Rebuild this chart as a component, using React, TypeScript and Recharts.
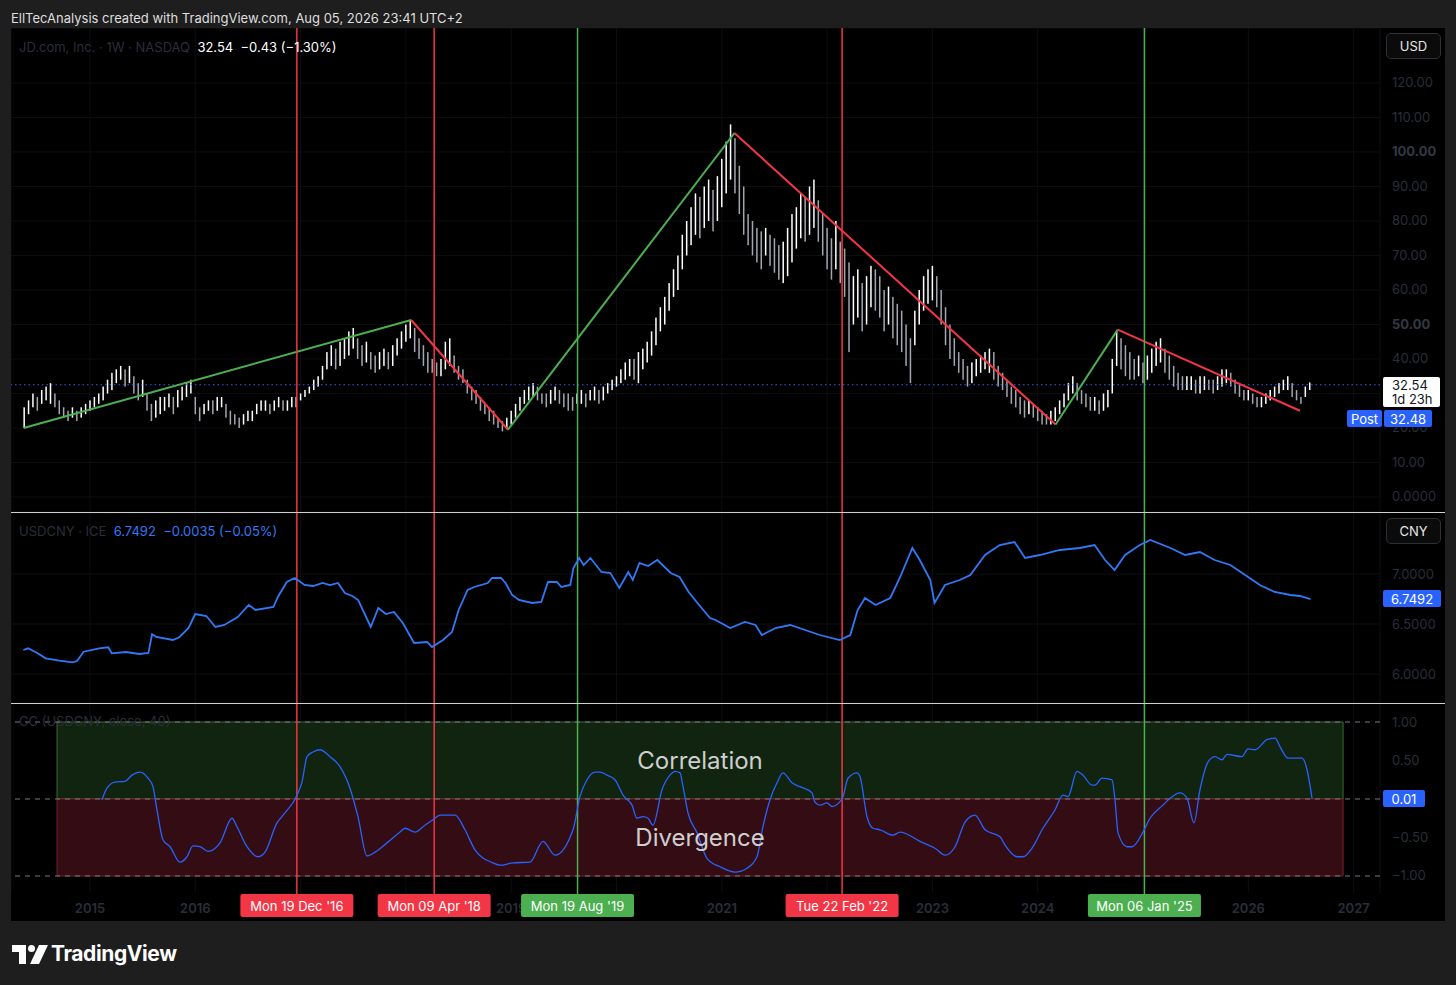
import React from 'react';
import { ComposedChart, Bar, Line, XAxis, YAxis, ReferenceLine, ReferenceArea, CartesianGrid } from 'recharts';

const FONT = "Inter, 'Noto Sans', 'DejaVu Sans', sans-serif";
const AXIS_TXT = '#2a2e39';
const RED = '#f23645';
const GREEN = '#4caf50';
const BLUE = '#2962ff';
const CNY_BLUE = '#3179f5';

const X_DOMAIN: [number, number] = [2014.2498, 2027.2507];
const YEARS = [2015, 2016, 2017, 2018, 2019, 2020, 2021, 2022, 2023, 2024, 2025, 2026, 2027];
const PRICE_TICKS = [0, 10, 20, 30, 40, 50, 60, 70, 80, 90, 100, 110, 120];
const CNY_TICKS = [6.0, 6.5, 7.0];
const CC_TICKS = [1, 0.5, -0.5, -1];

// JD.com weekly bars, sampled every half month from mid-May 2014: [low, high]
const JD_START = 2014.375;
const JD_STEP = 1 / 24;
const jdRanges: [number, number][] = [
  [20, 26], [24, 28], [26, 30], [25, 29], [27, 31], [28, 32], [27, 33], [26, 30], [24, 28], [23, 26],
  [22, 25], [23, 26], [22, 25], [23, 26], [24, 27], [25, 28], [26, 29], [27, 30], [28, 32], [30, 34],
  [31, 36], [33, 37], [34, 38], [32, 37], [33, 38], [30, 35], [28, 33], [29, 34], [25, 30], [22, 27],
  [23, 28], [24, 29], [25, 29], [26, 30], [24, 29], [26, 31], [28, 32], [29, 33], [30, 34], [24, 29],
  [22, 26], [24, 27], [25, 28], [24, 28], [25, 29], [26, 29], [23, 27], [21, 25], [21, 24], [20, 23],
  [21, 24], [22, 25], [22, 25], [24, 27], [25, 28], [25, 28], [24, 27], [25, 28], [26, 29], [25, 28],
  [25, 28], [26, 29], [26, 29], [28, 30], [29, 31], [30, 32], [31, 34], [32, 35], [34, 38], [37, 42],
  [38, 44], [37, 43], [38, 45], [40, 46], [41, 48], [43, 49], [40, 46], [38, 44], [39, 45], [37, 42],
  [36, 41], [37, 42], [38, 43], [37, 42], [38, 44], [41, 46], [43, 48], [45, 50], [46, 51], [42, 49],
  [40, 46], [38, 44], [36, 42], [36, 40], [35, 39], [35, 40], [37, 45], [38, 46], [36, 41], [34, 38],
  [33, 37], [30, 34], [28, 32], [27, 31], [25, 29], [24, 27], [22, 26], [21, 25], [20, 23], [19, 22],
  [20, 23], [21, 25], [23, 27], [25, 29], [27, 31], [28, 32], [29, 33], [28, 32], [27, 30], [26, 30],
  [27, 31], [28, 32], [27, 31], [26, 30], [25, 30], [25, 29], [27, 30], [27, 31], [26, 30], [28, 31],
  [28, 32], [27, 31], [28, 32], [30, 33], [31, 34], [32, 35], [33, 37], [34, 39], [35, 40], [34, 40],
  [33, 42], [37, 43], [39, 45], [41, 48], [44, 52], [48, 55], [50, 58], [54, 62], [58, 66], [60, 70],
  [66, 76], [70, 80], [73, 84], [76, 88], [75, 87], [78, 90], [80, 92], [77, 89], [80, 93], [84, 98],
  [88, 103], [92, 108], [88, 104], [82, 96], [76, 90], [73, 82], [70, 80], [68, 78], [66, 77], [70, 78],
  [67, 76], [65, 75], [63, 73], [62, 74], [64, 78], [68, 82], [72, 84], [75, 88], [74, 87], [76, 90],
  [78, 92], [74, 86], [70, 82], [66, 78], [63, 75], [66, 80], [62, 74], [58, 72], [42, 68], [50, 64],
  [52, 66], [48, 62], [50, 64], [55, 67], [54, 66], [52, 64], [48, 60], [50, 61], [46, 58], [44, 56],
  [42, 54], [38, 50], [33, 46], [44, 54], [50, 60], [54, 64], [56, 66], [57, 67], [55, 64], [50, 60],
  [44, 55], [40, 50], [38, 46], [36, 42], [34, 40], [32, 38], [33, 39], [35, 40], [36, 41], [37, 42],
  [36, 43], [34, 42], [32, 38], [31, 36], [29, 34], [27, 32], [26, 31], [24, 29], [23, 28], [24, 28],
  [23, 27], [22, 26], [21, 25], [21, 24], [21, 25], [22, 26], [24, 28], [26, 30], [28, 33], [30, 35],
  [28, 33], [27, 31], [26, 30], [25, 29], [25, 29], [24, 28], [25, 30], [26, 31], [30, 40], [38, 48],
  [37, 46], [35, 44], [34, 42], [34, 40], [35, 41], [33, 39], [34, 41], [36, 43], [38, 45], [39, 46],
  [36, 43], [34, 41], [32, 38], [31, 36], [31, 35], [31, 35], [31, 35], [30, 34], [30, 35], [31, 35],
  [31, 34], [30, 34], [31, 35], [32, 37], [33, 37], [32, 36], [30, 34], [29, 33], [28, 31], [28, 31],
  [27, 30], [26, 29], [26, 29], [27, 30], [28, 31], [29, 32], [30, 33], [31, 34], [31, 35], [29, 33],
  [28, 31], [27, 29], [29, 32], [31, 33.2],
];
const JD_LAST = 32.54;

// USDCNY close [year, value]
const usdcny: [number, number][] = [
  [2014.367, 6.24], [2014.411, 6.257], [2014.495, 6.213], [2014.579, 6.157], [2014.707, 6.133], [2014.834, 6.117],
  [2014.877, 6.13], [2014.94, 6.223], [2015.088, 6.257], [2015.173, 6.267], [2015.207, 6.207], [2015.342, 6.22],
  [2015.47, 6.2], [2015.555, 6.21], [2015.589, 6.397], [2015.63, 6.37], [2015.788, 6.34], [2015.851, 6.37],
  [2015.936, 6.46], [2015.999, 6.6], [2016.105, 6.58], [2016.191, 6.47], [2016.275, 6.49], [2016.403, 6.57],
  [2016.508, 6.69], [2016.572, 6.64], [2016.742, 6.67], [2016.784, 6.77], [2016.869, 6.92], [2016.945, 6.96],
  [2017.038, 6.89], [2017.12, 6.88], [2017.208, 6.91], [2017.28, 6.89], [2017.355, 6.91], [2017.42, 6.81],
  [2017.49, 6.78], [2017.547, 6.74], [2017.666, 6.47], [2017.738, 6.66], [2017.81, 6.6], [2017.886, 6.62],
  [2017.971, 6.51], [2018.077, 6.31], [2018.204, 6.32], [2018.247, 6.27], [2018.352, 6.34], [2018.438, 6.42],
  [2018.501, 6.64], [2018.586, 6.84], [2018.649, 6.87], [2018.777, 6.91], [2018.819, 6.96], [2018.903, 6.96],
  [2018.946, 6.91], [2019.009, 6.79], [2019.073, 6.74], [2019.2, 6.71], [2019.286, 6.72], [2019.349, 6.92],
  [2019.434, 6.92], [2019.476, 6.87], [2019.561, 6.89], [2019.591, 7.06], [2019.646, 7.16], [2019.688, 7.09],
  [2019.752, 7.16], [2019.857, 7.02], [2019.942, 7.01], [2020.027, 6.86], [2020.112, 7.02], [2020.155, 6.94],
  [2020.218, 7.11], [2020.3, 7.08], [2020.388, 7.14], [2020.515, 7.01], [2020.599, 6.97], [2020.685, 6.82],
  [2020.769, 6.71], [2020.888, 6.56], [2020.94, 6.54], [2021.08, 6.46], [2021.22, 6.52], [2021.32, 6.49],
  [2021.38, 6.39], [2021.51, 6.46], [2021.65, 6.49], [2021.79, 6.44], [2021.93, 6.39], [2022.12, 6.34],
  [2022.22, 6.39], [2022.29, 6.64], [2022.36, 6.76], [2022.46, 6.69], [2022.6, 6.76], [2022.69, 6.96],
  [2022.81, 7.26], [2022.88, 7.14], [2022.98, 6.94], [2023.02, 6.71], [2023.12, 6.89], [2023.26, 6.94],
  [2023.36, 6.99], [2023.5, 7.19], [2023.64, 7.29], [2023.78, 7.32], [2023.88, 7.16], [2024.02, 7.19],
  [2024.21, 7.24], [2024.4, 7.26], [2024.54, 7.29], [2024.64, 7.14], [2024.73, 7.04], [2024.83, 7.19],
  [2024.97, 7.29], [2025.07, 7.34], [2025.26, 7.26], [2025.4, 7.19], [2025.54, 7.22], [2025.68, 7.14],
  [2025.83, 7.09], [2025.97, 6.99], [2026.11, 6.89], [2026.25, 6.82], [2026.4, 6.79], [2026.49, 6.78],
  [2026.59, 6.7492],
];

// CC (USDCNY, close, 40) [year, value]
const corr: [number, number][] = [
  [2015.114, -0.01], [2015.161, 0.14], [2015.237, 0.22], [2015.332, 0.23], [2015.399, 0.31], [2015.475, 0.35],
  [2015.551, 0.27], [2015.598, 0.16], [2015.636, -0.14], [2015.693, -0.53], [2015.76, -0.62], [2015.855, -0.82],
  [2015.921, -0.75], [2015.978, -0.61], [2016.045, -0.62], [2016.121, -0.68], [2016.235, -0.57], [2016.349, -0.25],
  [2016.396, -0.36], [2016.491, -0.62], [2016.596, -0.75], [2016.662, -0.69], [2016.776, -0.31], [2016.833, -0.21],
  [2016.966, 0.05], [2017.013, 0.22], [2017.061, 0.55], [2017.118, 0.61], [2017.184, 0.64], [2017.279, 0.55],
  [2017.374, 0.42], [2017.469, 0.14], [2017.545, -0.23], [2017.631, -0.74], [2017.707, -0.69], [2017.82, -0.57],
  [2017.944, -0.43], [2017.991, -0.38], [2018.087, -0.43], [2018.181, -0.34], [2018.257, -0.27], [2018.324, -0.21],
  [2018.467, -0.21], [2018.561, -0.4], [2018.656, -0.66], [2018.827, -0.83], [2018.894, -0.86], [2019.017, -0.83],
  [2019.178, -0.82], [2019.302, -0.55], [2019.416, -0.73], [2019.587, -0.4], [2019.653, 0.03], [2019.72, 0.25],
  [2019.796, 0.35], [2019.843, 0.35], [2019.91, 0.31], [2019.986, 0.25], [2020.062, 0.05], [2020.147, -0.08],
  [2020.195, -0.25], [2020.252, -0.23], [2020.299, -0.25], [2020.347, -0.34], [2020.432, 0.12], [2020.508, 0.31],
  [2020.556, 0.36], [2020.603, 0.34], [2020.632, 0.16], [2020.679, -0.18], [2020.765, -0.44], [2020.859, -0.77],
  [2020.983, -0.88], [2021.125, -0.95], [2021.239, -0.9], [2021.334, -0.75], [2021.391, -0.36], [2021.458, -0.01],
  [2021.524, 0.21], [2021.581, 0.34], [2021.667, 0.21], [2021.742, 0.16], [2021.856, 0.08], [2021.885, -0.04],
  [2021.933, -0.08], [2021.999, -0.05], [2022.047, -0.1], [2022.104, -0.06], [2022.151, 0.03], [2022.198, 0.27],
  [2022.284, 0.34], [2022.313, 0.29], [2022.379, -0.23], [2022.436, -0.38], [2022.503, -0.4], [2022.626, -0.47],
  [2022.693, -0.43], [2022.882, -0.55], [2023.025, -0.64], [2023.12, -0.73], [2023.215, -0.62], [2023.31, -0.3],
  [2023.404, -0.21], [2023.5, -0.4], [2023.642, -0.49], [2023.69, -0.6], [2023.803, -0.75], [2023.86, -0.75],
  [2023.955, -0.62], [2024.041, -0.4], [2024.165, -0.14], [2024.24, 0.05], [2024.288, 0.03], [2024.373, 0.36],
  [2024.43, 0.31], [2024.516, 0.18], [2024.544, 0.18], [2024.611, 0.27], [2024.706, 0.25], [2024.734, -0.01],
  [2024.763, -0.44], [2024.848, -0.62], [2024.896, -0.62], [2025.0, -0.43], [2025.067, -0.25], [2025.19, -0.08],
  [2025.257, 0.01], [2025.351, 0.08], [2025.418, 0.01], [2025.484, -0.31], [2025.541, 0.12], [2025.617, 0.48],
  [2025.684, 0.55], [2025.75, 0.51], [2025.798, 0.58], [2025.94, 0.55], [2025.997, 0.65], [2026.064, 0.64],
  [2026.177, 0.77], [2026.254, 0.79], [2026.301, 0.68], [2026.378, 0.53], [2026.51, 0.53], [2026.558, 0.38],
  [2026.605, 0.01],
];

// drawn trend lines [year, price]
const trendSegments: { color: string; pts: [number, number][] }[] = [
  { color: GREEN, pts: [[2014.37, 20], [2018.05, 51.3]] },
  { color: RED, pts: [[2018.05, 51.3], [2018.97, 19.5]] },
  { color: GREEN, pts: [[2018.97, 19.5], [2021.12, 105.5]] },
  { color: RED, pts: [[2021.12, 105.5], [2024.17, 21]] },
  { color: GREEN, pts: [[2024.17, 21], [2024.76, 48.5]] },
  { color: RED, pts: [[2024.76, 48.5], [2026.49, 25]] },
];

const events = [
  { t: 2016.9645, label: "Mon 19 Dec '16", color: RED },
  { t: 2018.2685, label: "Mon 09 Apr '18", color: RED },
  { t: 2019.63, label: "Mon 19 Aug '19", color: GREEN },
  { t: 2022.1425, label: "Tue 22 Feb '22", color: RED },
  { t: 2025.0137, label: "Mon 06 Jan '25", color: GREEN },
];

const ZONE_START = 2014.687;
const ZONE_END = 2026.9;

const jdData = jdRanges.map((r, i) => {
  const prev = i > 0 ? jdRanges[i - 1] : r;
  return { t: JD_START + i * JD_STEP, range: r, up: r[0] + r[1] >= prev[0] + prev[1] };
});
const cnyData = usdcny.map(([t, v]) => ({ t, v }));
const ccData = corr.map(([t, v]) => ({ t, v }));

const CHART_W = 1434;
const AXIS_W = 65;
const PX_PER_YEAR = (CHART_W - AXIS_W) / (X_DOMAIN[1] - X_DOMAIN[0]);
const TAG_W = 113;

const fmtMinus = (s: string) => s.replace('-', '\u2212');

// hiddenNear: axis labels hidden behind the last-price tag (as on TradingView)
const makeYTick = (fmt: (v: number) => string, boldSet: number[] = [], hiddenNear: number[] = []) => (p: any) => {
  const v = p.payload.value;
  if (hiddenNear.some((h) => Math.abs(h - v) < 4)) return <g />;
  const bold = boldSet.includes(v);
  return (
    <text x={p.x} y={p.y} dy={4.5} fill={bold ? '#343844' : AXIS_TXT} fontSize={13} fontWeight={bold ? 700 : 400}
      fontFamily={FONT} textAnchor="start">{fmt(v)}</text>
  );
};

// a year label fully hidden behind a date tag is not drawn (as on TradingView)
const yearTick = (p: any) => {
  const v = p.payload.value;
  const hidden = events.some((ev) => Math.abs(v - ev.t) * PX_PER_YEAR + 16 < TAG_W / 2);
  if (hidden) return <g />;
  return (
    <text x={p.x} y={p.y + 15} dominantBaseline="central" textAnchor="middle" fill={AXIS_TXT} fontSize={13}
      fontFamily={FONT} fontWeight={600}>{v}</text>
  );
};

const BarShape = (props: any) => {
  const { x, y, width, height, payload } = props;
  if (height == null || isNaN(height)) return null;
  const cx = x + width / 2;
  return <rect x={cx - 0.75} y={y} width={1.5} height={Math.max(height, 1)} fill={payload.up ? '#ffffff' : '#a3a6af'} />;
};

const EventLabel = (props: any) => {
  const { viewBox, text, color } = props;
  if (!viewBox) return null;
  const { x, y, height } = viewBox;
  const by = y + height + 1;
  return (
    <g>
      <line x1={x} x2={x} y1={y + height} y2={by} stroke={color} strokeWidth={1.5} />
      <rect x={x - TAG_W / 2} y={by} width={TAG_W} height={23} rx={2} fill={color} />
      <text x={x} y={by + 12} textAnchor="middle" dominantBaseline="central" fill="#ffffff" fontSize={13}
        fontFamily={FONT}>{text}</text>
    </g>
  );
};

const eventLines = () =>
  events.map((ev) => (
    <ReferenceLine key={ev.label} x={ev.t} stroke={ev.color} strokeWidth={1.5} />
  ));

function PriceChart() {
  return (
    <ComposedChart width={CHART_W} height={484} data={jdData} margin={{ top: 0, right: 0, bottom: 0, left: 0 }}>
      <CartesianGrid stroke="#0d0e12" />
      <XAxis dataKey="t" type="number" domain={X_DOMAIN} allowDataOverflow ticks={YEARS} hide />
      <YAxis orientation="right" width={AXIS_W} domain={[-4.35, 135.94]} allowDataOverflow ticks={PRICE_TICKS}
        axisLine={false} tickLine={false} tickSize={0} tickMargin={12} interval={0}
        tick={makeYTick((v) => (v === 0 ? '0.0000' : v.toFixed(2)), [50, 100], [JD_LAST])} />
      <ReferenceLine y={JD_LAST} stroke={BLUE} strokeDasharray="1.5 3" strokeWidth={1.2} />
      <Bar dataKey="range" barSize={2} isAnimationActive={false} shape={<BarShape />} />
      {trendSegments.map((s, i) => (
        <Line key={i} data={s.pts.map(([t, v]) => ({ t, v }))} dataKey="v" type="linear" stroke={s.color}
          strokeWidth={2} dot={false} isAnimationActive={false} />
      ))}
      {eventLines()}
    </ComposedChart>
  );
}

function CnyChart() {
  return (
    <ComposedChart width={CHART_W} height={190} margin={{ top: 0, right: 0, bottom: 0, left: 0 }}>
      <CartesianGrid stroke="#0d0e12" />
      <XAxis dataKey="t" type="number" domain={X_DOMAIN} allowDataOverflow ticks={YEARS} hide />
      <YAxis orientation="right" width={AXIS_W} domain={[5.71, 7.61]} allowDataOverflow ticks={CNY_TICKS}
        axisLine={false} tickLine={false} tickSize={0} tickMargin={12} interval={0}
        tick={makeYTick((v) => v.toFixed(4))} />
      {eventLines()}
      <Line data={cnyData} dataKey="v" type="linear" stroke={CNY_BLUE} strokeWidth={1.8} dot={false}
        isAnimationActive={false} />
    </ComposedChart>
  );
}

function CcChart() {
  return (
    <ComposedChart width={CHART_W} height={217} margin={{ top: 0, right: 0, bottom: 0, left: 0 }}>
      <CartesianGrid stroke="#0d0e12" horizontal={false} />
      <XAxis dataKey="t" type="number" domain={X_DOMAIN} allowDataOverflow ticks={YEARS} interval={0}
        height={28} axisLine={false} tickLine={false} tickSize={0} tickMargin={0} tick={yearTick} />
      <YAxis orientation="right" width={AXIS_W} domain={[-1.221, 1.234]} allowDataOverflow ticks={CC_TICKS}
        axisLine={false} tickLine={false} tickSize={0} tickMargin={12} interval={0}
        tick={makeYTick((v) => fmtMinus(v.toFixed(2)))} />
      <ReferenceArea x1={ZONE_START} x2={ZONE_END} y1={0} y2={1} fill="#10240f" fillOpacity={1} stroke="#3b6b35"
        strokeWidth={1} label={{ value: 'Correlation', position: 'center', fill: '#cfcfcf', fontSize: 24, fontFamily: FONT }} />
      <ReferenceArea x1={ZONE_START} x2={ZONE_END} y1={-1} y2={0} fill="#330d13" fillOpacity={1} stroke="#7a2029"
        strokeWidth={1} label={{ value: 'Divergence', position: 'center', fill: '#cfcfcf', fontSize: 24, fontFamily: FONT }} />
      <ReferenceLine y={1} stroke="#787b86" strokeDasharray="5 5" />
      <ReferenceLine y={0} stroke="#787b86" strokeDasharray="5 5" />
      <ReferenceLine y={-1} stroke="#787b86" strokeDasharray="5 5" />
      {eventLines()}
      <Line data={ccData} dataKey="v" type="monotone" stroke={BLUE} strokeWidth={1.3} dot={false}
        isAnimationActive={false} />
    </ComposedChart>
  );
}

// transparent overlay that carries the date tags above the time axis labels
function EventTagChart() {
  return (
    <ComposedChart width={CHART_W} height={217} margin={{ top: 0, right: AXIS_W, bottom: 28, left: 0 }}>
      <XAxis dataKey="t" type="number" domain={X_DOMAIN} allowDataOverflow hide />
      <YAxis domain={[-1.221, 1.234]} allowDataOverflow hide />
      {events.map((ev) => (
        <ReferenceLine key={ev.label} x={ev.t} stroke="none"
          label={<EventLabel text={ev.label} color={ev.color} />} />
      ))}
    </ComposedChart>
  );
}

const boxStyle: React.CSSProperties = {
  position: 'absolute', width: 55, height: 26, border: '1px solid #2f3035', borderRadius: 5, background: '#0b0b0c',
  color: '#e6e6e6', fontSize: 13, display: 'flex', alignItems: 'center', justifyContent: 'center', boxSizing: 'border-box',
};
const tagStyle: React.CSSProperties = {
  position: 'absolute', height: 17, background: BLUE, color: '#ffffff', fontSize: 13, display: 'flex',
  alignItems: 'center', justifyContent: 'center', borderRadius: 2,
};

export default function App() {
  return (
    <div style={{ position: 'absolute', left: 0, top: 0, width: 1456, height: 985, background: '#1e1e1e', fontFamily: FONT, overflow: 'hidden' }}>
      <div style={{ position: 'absolute', left: 11, top: 10, fontSize: 13, lineHeight: '16px', color: '#dedede' }}>
        EllTecAnalysis created with TradingView.com, Aug 05, 2026 23:41 UTC+2
      </div>
      <div style={{ position: 'absolute', left: 11, top: 28, width: 1434, height: 893, background: '#000000' }} />

      <div style={{ position: 'absolute', left: 11, top: 28 }}><PriceChart /></div>
      <div style={{ position: 'absolute', left: 11, top: 513 }}><CnyChart /></div>
      <div style={{ position: 'absolute', left: 11, top: 704 }}><CcChart /></div>
      <div style={{ position: 'absolute', left: 11, top: 704 }}><EventTagChart /></div>

      <div style={{ position: 'absolute', left: 11, top: 512, width: 1434, height: 1, background: '#cfcfcf' }} />
      <div style={{ position: 'absolute', left: 11, top: 703, width: 1434, height: 1, background: '#cfcfcf' }} />

      {/* legends */}
      <div style={{ position: 'absolute', left: 19, top: 39, fontSize: 13, lineHeight: '16px', whiteSpace: 'pre' }}>
        <span style={{ color: AXIS_TXT }}>JD.com, Inc. · 1W · NASDAQ</span>
        <span style={{ color: '#ffffff' }}>{'  32.54  \u22120.43 (\u22121.30%)'}</span>
      </div>
      <div style={{ position: 'absolute', left: 19, top: 523, fontSize: 13, lineHeight: '16px', whiteSpace: 'pre' }}>
        <span style={{ color: AXIS_TXT }}>USDCNY · ICE</span>
        <span style={{ color: CNY_BLUE }}>{'  6.7492  \u22120.0035 (\u22120.05%)'}</span>
      </div>
      <div style={{ position: 'absolute', left: 19, top: 713, fontSize: 13, lineHeight: '16px', color: AXIS_TXT }}>
        CC (USDCNY, close, 40)
      </div>

      {/* scale boxes */}
      <div style={{ ...boxStyle, left: 1386, top: 33 }}>USD</div>
      <div style={{ ...boxStyle, left: 1386, top: 518 }}>CNY</div>

      {/* price tags */}
      <div style={{ position: 'absolute', left: 1383, top: 377, width: 57, height: 30, background: '#ffffff', color: '#131722',
        fontSize: 13, lineHeight: '14px', paddingLeft: 9, boxSizing: 'border-box', paddingTop: 1, borderRadius: 2 }}>
        <div>32.54</div><div>1d 23h</div>
      </div>
      <div style={{ ...tagStyle, left: 1347, top: 410, width: 35 }}>Post</div>
      <div style={{ ...tagStyle, left: 1384, top: 410, width: 48 }}>32.48</div>
      <div style={{ ...tagStyle, left: 1383, top: 590, width: 58 }}>6.7492</div>
      <div style={{ ...tagStyle, left: 1383, top: 790, width: 42 }}>0.01</div>

      {/* TradingView logo */}
      <svg style={{ position: 'absolute', left: 12, top: 944 }} width={40} height={22}>
        <path d="M0 1 H14 V20 H7 V8 H0 Z" fill="#ffffff" />
        <circle cx={19.5} cy={4.5} r={3.5} fill="#ffffff" />
        <path d="M27 1 H36 L27 20 H18 Z" fill="#ffffff" />
      </svg>
      <div style={{ position: 'absolute', left: 51, top: 941, fontSize: 21, fontWeight: 700, color: '#ffffff', lineHeight: '26px', letterSpacing: -0.4 }}>
        TradingView
      </div>
    </div>
  );
}
